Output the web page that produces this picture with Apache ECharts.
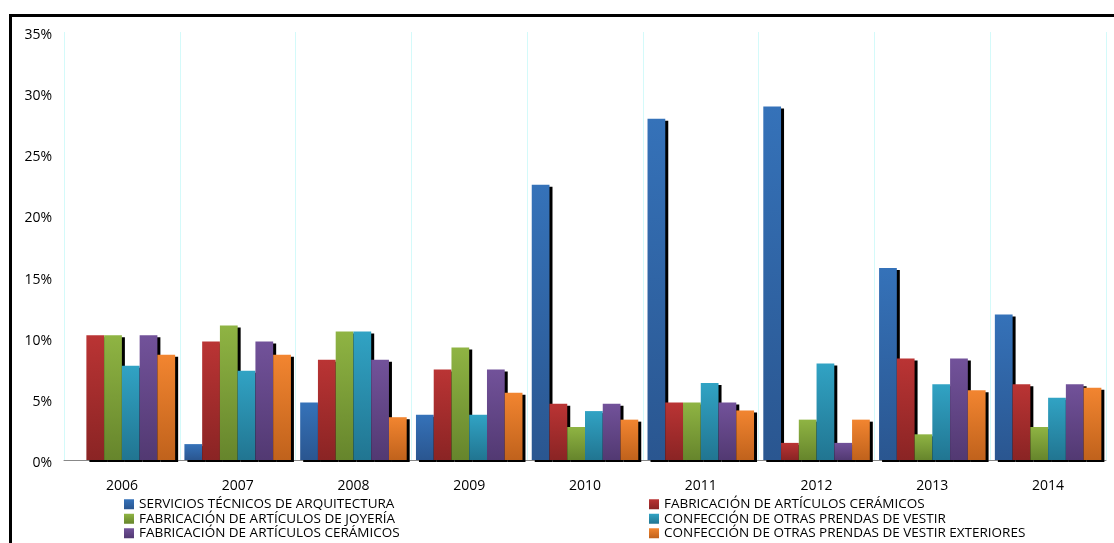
<!DOCTYPE html>
<html><head><meta charset="utf-8">
<script src="https://cdn.jsdelivr.net/npm/echarts@6/dist/echarts.min.js"></script>
<style>html,body{margin:0;padding:0;background:#fff}#c{width:1114px;height:543px}</style>
</head><body><div id="c"></div>
<script>
const years = ['2006','2007','2008','2009','2010','2011','2012','2013','2014'];
const names = [
  'SERVICIOS TÉCNICOS DE ARQUITECTURA',
  'FABRICACIÓN DE ARTÍCULOS CERÁMICOS',
  'FABRICACIÓN DE ARTÍCULOS DE JOYERÍA',
  'CONFECCIÓN DE OTRAS PRENDAS DE VESTIR',
  'FABRICACIÓN DE ARTÍCULOS CERÁMICOS ',
  'CONFECCIÓN DE OTRAS PRENDAS DE VESTIR EXTERIORES'
];
const arquitectura = [0, 1.3, 4.7, 3.7, 22.5, 27.9, 28.9, 15.7, 11.9];
const ceramicos1   = [10.2, 9.7, 8.2, 7.4, 4.6, 4.7, 1.4, 8.3, 6.2];
const joyeria      = [10.2, 11.0, 10.5, 9.2, 2.7, 4.7, 3.3, 2.1, 2.7];
const vestir       = [7.7, 7.3, 10.5, 3.7, 4.0, 6.3, 7.9, 6.2, 5.1];
const ceramicos2   = [10.2, 9.7, 8.2, 7.4, 4.6, 4.7, 1.4, 8.3, 6.2];
const exteriores   = [8.6, 8.6, 3.5, 5.5, 3.3, 4.05, 3.3, 5.7, 5.9];
const yTicks = [0, 5, 10, 15, 20, 25, 30, 35];

const seriesData = [arquitectura, ceramicos1, joyeria, vestir, ceramicos2, exteriores];
const colorsTop = ['#3572B9', '#BA3434', '#8FB443', '#31A3C4', '#72529A', '#F28530'];
const colorsBot = ['#2A5690', '#8A2424', '#66852C', '#217591', '#523972', '#C0621C'];

const chart = echarts.init(document.getElementById('c'));
const series = seriesData.map((d, i) => ({
  name: names[i],
  type: 'bar',
  data: d,
  barGap: 0,
  barCategoryGap: '8%',
  itemStyle: {
    color: new echarts.graphic.LinearGradient(0, 0, 0, 1, [
      {offset: 0, color: colorsTop[i]}, {offset: 1, color: colorsBot[i]}
    ]),
    shadowColor: '#000',
    shadowOffsetX: 3,
    shadowOffsetY: 2,
    shadowBlur: 0
  },
  emphasis: {disabled: true}
}));

const legendText = {fontFamily: 'Open Sans', fontSize: 13.5, color: '#000', lineHeight: 14.5};
chart.setOption({
  animation: false,
  color: colorsTop,
  grid: {left: 64, right: 8, top: 32, bottom: 83},
  xAxis: {
    type: 'category',
    data: years,
    axisLine: {show: true, lineStyle: {color: '#888888', width: 1}},
    axisTick: {show: false},
    axisLabel: {color: '#000', fontFamily: 'Open Sans', fontSize: 14, margin: 19},
    splitLine: {show: true, interval: 0, lineStyle: {color: '#D4FAFA', width: 1}}
  },
  yAxis: {
    type: 'value',
    min: 0, max: 35, interval: 5,
    axisLine: {show: false},
    axisTick: {show: false},
    splitLine: {show: false},
    axisLabel: {color: '#000', fontFamily: 'Open Sans', fontSize: 14, margin: 12,
      verticalAlign: 'top', lineHeight: 6,
      formatter: v => yTicks.includes(v) ? v + '%' : ''}
  },
  legend: [
    {orient: 'vertical', left: 124, top: 497, padding: 0, itemWidth: 10, itemHeight: 10, itemGap: 0,
     textStyle: legendText, icon: 'rect', selectedMode: false,
     data: [names[0], names[2], names[4]]},
    {orient: 'vertical', left: 649, top: 497, padding: 0, itemWidth: 10, itemHeight: 10, itemGap: 0,
     textStyle: legendText, icon: 'rect', selectedMode: false,
     data: [names[1], names[3], names[5]]}
  ],
  graphic: [{
    type: 'rect', left: 8, top: 13, z: 100, silent: true,
    shape: {x: 0, y: 0, width: 1130, height: 600},
    style: {fill: 'none', stroke: '#000', lineWidth: 3}
  }],
  series: series
});
</script></body></html>
